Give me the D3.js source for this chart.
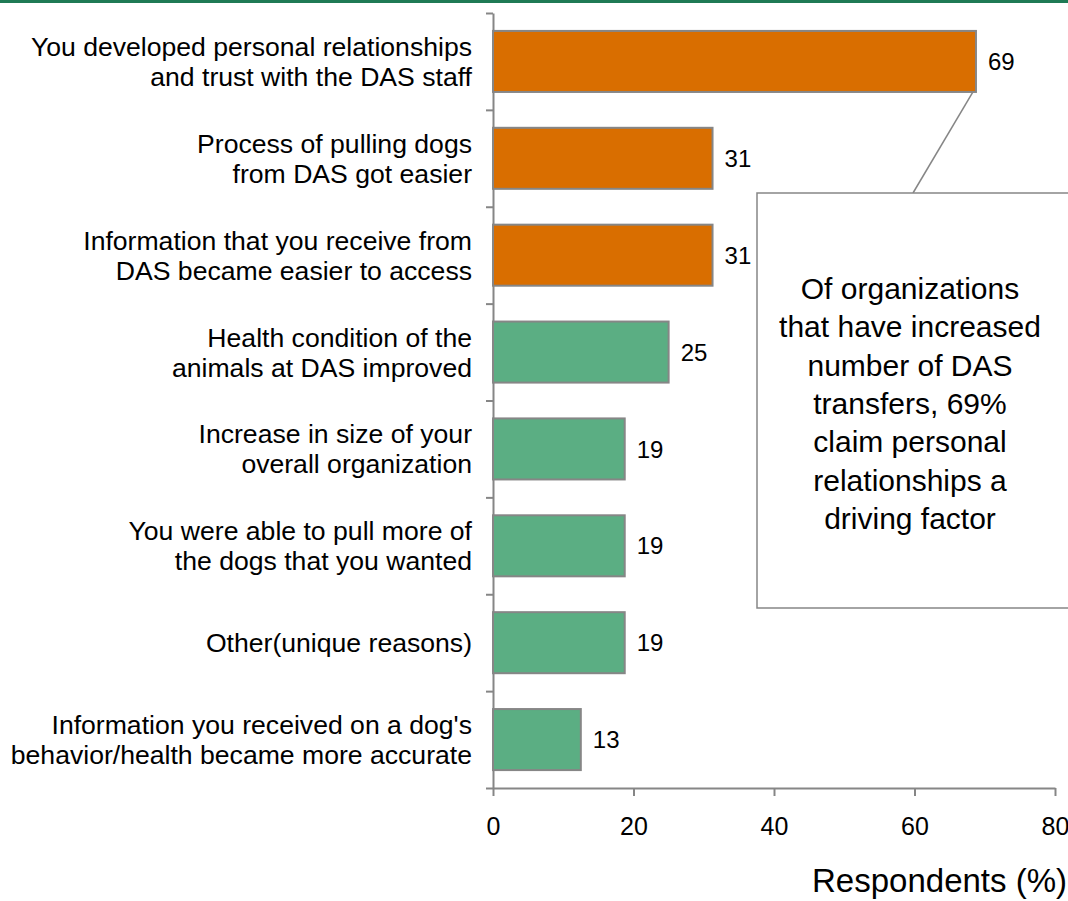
<!DOCTYPE html>
<html>
<head>
<meta charset="utf-8">
<script src="https://cdn.jsdelivr.net/npm/d3@7"></script>
<style>
  body { margin: 0; background: #fff; }
  svg { display: block; font-family: "Liberation Sans", Arial, sans-serif; }
</style>
</head>
<body>
<div class="chart"></div>
<script>
// categories (label lines), values in % of respondents, highlight flag
var categories = [
  ['You developed personal relationships', 'and trust with the DAS staff'],
  ['Process of pulling dogs', 'from DAS got easier'],
  ['Information that you receive from', 'DAS became easier to access'],
  ['Health condition of the', 'animals at DAS improved'],
  ['Increase in size of your', 'overall organization'],
  ['You were able to pull more of', 'the dogs that you wanted'],
  ['Other(unique reasons)'],
  ["Information you received on a dog's", 'behavior/health became more accurate']
]
var values = [68.75, 31.25, 31.25, 25, 18.75, 18.75, 18.75, 12.5]
var highlight = [true, true, true, false, false, false, false, false]
var xTicks = [0, 20, 40, 60, 80]
var calloutLines = [
  'Of organizations',
  'that have increased',
  'number of DAS',
  'transfers, 69%',
  'claim personal',
  'relationships a',
  'driving factor'
]

var W = 1068, H = 901
var orange = '#d96e00', green = '#5bae83', axisGrey = '#868686'

var svg = d3.select('.chart')
  .append('svg')
    .attr('width', W)
    .attr('height', H)

// green rule at the top
svg.append('rect')
  .attr('x', 0).attr('y', 0)
  .attr('width', W).attr('height', 3)
  .attr('fill', '#1f7a55')

var idx = d3.range(categories.length)

var x = d3.scaleLinear().domain([0, 80]).range([493, 1055])
var y = d3.scaleBand().domain(idx)
  .range([13, 788])
  .paddingInner(0.37)
  .paddingOuter(0.185)

// y axis: ticks sit between the categories
var yEdges = d3.scaleLinear().domain([0, categories.length]).range([13, 788])
var yAxis = svg.append('g')
  .attr('transform', 'translate(' + x(0) + ',0)')
  .call(d3.axisLeft(yEdges).tickValues(d3.range(categories.length + 1))
    .tickFormat('').tickSizeInner(7).tickSizeOuter(0))
yAxis.selectAll('path, line').attr('stroke', axisGrey).attr('stroke-width', 2)

// x axis
var xAxis = svg.append('g')
  .attr('transform', 'translate(0,788)')
  .call(d3.axisBottom(x).tickValues(xTicks).tickSizeInner(8).tickSizeOuter(0))
xAxis.select('.domain').attr('stroke', axisGrey).attr('stroke-width', 2)
xAxis.selectAll('.tick line').attr('stroke', axisGrey).attr('stroke-width', 2)
xAxis.selectAll('.tick text')
  .attr('y', 47).attr('dy', 0)
  .attr('fill', '#000')
  .style('font-size', '25px')
  .style('font-family', '"Liberation Sans", Arial, sans-serif')

// connector from the first bar to the callout box
var boxX = 757, boxY = 193, boxW = 340, boxH = 415
svg.append('line')
  .attr('x1', x(values[0]) - 3).attr('y1', y(0) + y.bandwidth())
  .attr('x2', 913).attr('y2', boxY)
  .attr('stroke', axisGrey).attr('stroke-width', 1.5)

// bars
var bar = svg.selectAll('g.bar')
  .data(idx)
  .enter()
  .append('g')
    .attr('class', 'bar')

bar.append('rect')
  .attr('x', x(0))
  .attr('y', i => y(i))
  .attr('width', i => x(values[i]) - x(0))
  .attr('height', y.bandwidth())
  .attr('fill', i => highlight[i] ? orange : green)
  .attr('stroke', axisGrey)
  .attr('stroke-width', 2)

bar.append('text')
  .attr('x', i => x(values[i]) + 12)
  .attr('y', i => y(i) + y.bandwidth() / 2)
  .attr('dy', '0.36em')
  .style('font-size', '24px')
  .text(i => Math.round(values[i]))

// category labels, right aligned
bar.append('text')
  .attr('text-anchor', 'end')
  .style('font-size', '26.6px')
  .each(function(i) {
    var lines = categories[i]
    var cy = y(i) + y.bandwidth() / 2
    var lh = 30
    d3.select(this).selectAll('tspan')
      .data(lines)
      .enter()
      .append('tspan')
        .attr('x', 472)
        .attr('y', (d, k) => cy + (k - (lines.length - 1) / 2) * lh + 9.5)
        .text(d => d)
  })

// callout box
svg.append('rect')
  .attr('x', boxX).attr('y', boxY)
  .attr('width', boxW).attr('height', boxH)
  .attr('fill', '#fff')
  .attr('stroke', axisGrey)
  .attr('stroke-width', 1.5)

svg.append('text')
  .attr('text-anchor', 'middle')
  .style('font-size', '30px')
  .selectAll('tspan')
  .data(calloutLines)
  .enter()
  .append('tspan')
    .attr('x', 910)
    .attr('y', (d, k) => 299 + k * 38.3)
    .text(d => d)

// axis title
svg.append('text')
  .attr('x', 1067).attr('y', 892)
  .attr('text-anchor', 'end')
  .style('font-size', '33px')
  .text('Respondents (%)')
</script>
</body>
</html>
